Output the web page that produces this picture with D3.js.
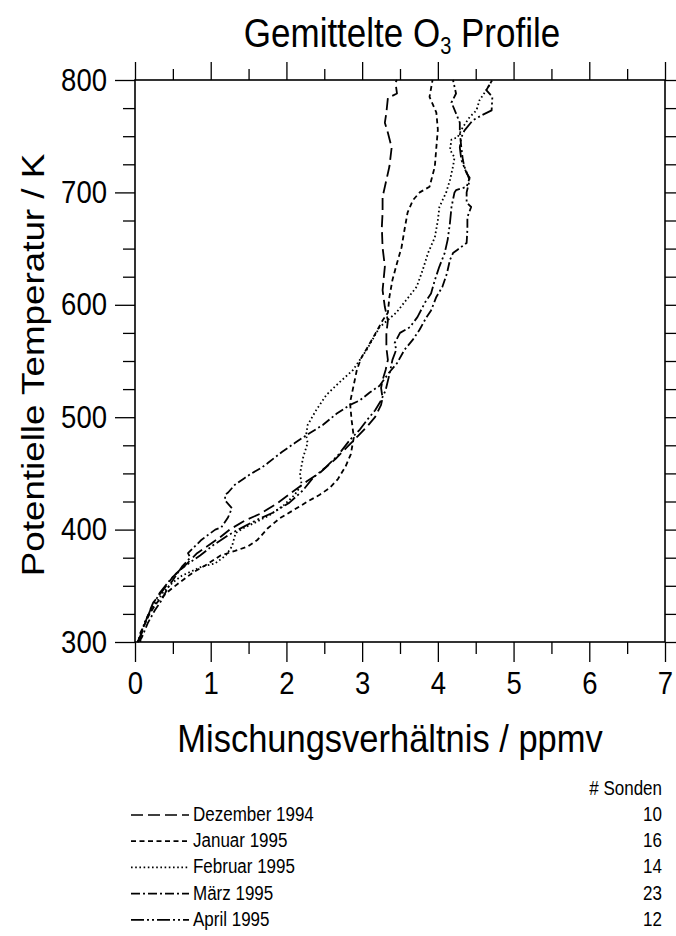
<!DOCTYPE html>
<html><head><meta charset="utf-8">
<script src="https://cdn.jsdelivr.net/npm/d3@7"></script>
<style>
html,body{margin:0;padding:0;background:#fff;}
svg{display:block;font-family:"Liberation Sans",Arial,Helvetica,sans-serif;}
</style></head>
<body>
<svg id="chart" width="676" height="936"></svg>
<script>
// ---- data (x = mixing ratio ppmv, y = potential temperature K) ----
const seriesNames = ["Dezember 1994","Januar 1995","Februar 1995","März 1995","April 1995"];
const sondenCounts = ["10","16","14","23","12"];
const xTickLabels = [0,1,2,3,4,5,6,7];
const yTickLabels = [300,400,500,600,700,800];

const dezember = [[0.07,300],[0.08,306],[0.16,322],[0.24,335],[0.37,346],[0.50,358],[0.69,370],[0.82,379],[0.95,385],[1.12,393],[1.25,400],[1.45,408],[1.65,414],[1.87,423],[2.07,433],[2.27,443],[2.45,451],[2.65,463],[2.81,474],[2.94,483],[3.07,492],[3.17,500],[3.25,511],[3.27,517],[3.25,526],[3.27,533],[3.31,542],[3.34,551],[3.32,562],[3.32,575],[3.34,586],[3.30,598],[3.27,613],[3.30,634],[3.27,651],[3.26,669],[3.27,682],[3.27,696],[3.32,711],[3.36,723],[3.39,740],[3.34,753],[3.30,762],[3.32,771],[3.34,784],[3.46,788],[3.44,798],[3.46,800]];
const januar = [[0.04,300],[0.07,308],[0.20,326],[0.29,335],[0.42,344],[0.59,353],[0.77,362],[0.95,369],[1.13,377],[1.32,381],[1.49,385],[1.62,391],[1.75,401],[1.91,410],[2.11,418],[2.28,425],[2.44,431],[2.57,437],[2.68,445],[2.78,456],[2.85,467],[2.89,482],[2.86,498],[2.84,513],[2.89,529],[2.93,542],[2.99,553],[3.07,562],[3.18,575],[3.27,586],[3.34,593],[3.36,607],[3.40,622],[3.46,637],[3.52,651],[3.56,667],[3.60,682],[3.67,693],[3.76,700],[3.89,705],[3.96,723],[3.98,740],[4.00,756],[3.98,771],[3.89,785],[3.93,800]];
const februar = [[0.04,300],[0.13,318],[0.24,331],[0.37,344],[0.50,353],[0.62,359],[0.75,363],[0.88,367],[1.06,370],[1.20,377],[1.28,385],[1.33,397],[1.45,402],[1.61,407],[1.78,413],[1.97,422],[2.11,431],[2.20,440],[2.18,450],[2.22,464],[2.28,477],[2.26,484],[2.28,493],[2.39,506],[2.53,520],[2.70,531],[2.88,542],[2.94,548],[3.06,560],[3.23,580],[3.45,593],[3.58,604],[3.72,616],[3.80,631],[3.87,646],[3.96,660],[4.00,675],[4.02,687],[4.11,700],[4.16,711],[4.20,723],[4.22,731],[4.16,738],[4.18,747],[4.26,749],[4.33,758],[4.42,767],[4.51,773],[4.55,782],[4.64,791],[4.72,800]];
const maerz = [[0.03,300],[0.09,304],[0.17,317],[0.26,328],[0.35,337],[0.44,349],[0.53,358],[0.62,367],[0.73,375],[0.70,379],[0.79,385],[0.88,391],[1.06,400],[1.14,402],[1.23,411],[1.28,419],[1.19,426],[1.19,431],[1.23,433],[1.32,440],[1.45,446],[1.54,450],[1.67,455],[1.75,459],[1.94,469],[2.11,477],[2.31,486],[2.48,493],[2.66,503],[2.84,511],[2.97,515],[3.10,522],[3.23,528],[3.36,540],[3.46,548],[3.56,560],[3.67,569],[3.76,578],[3.85,589],[3.91,595],[3.98,607],[4.06,616],[4.12,628],[4.16,640],[4.20,646],[4.26,649],[4.38,655],[4.39,667],[4.39,678],[4.44,687],[4.38,691],[4.38,700],[4.42,711],[4.35,723],[4.33,729],[4.31,740],[4.29,753],[4.29,762],[4.26,767],[4.18,780],[4.24,788],[4.20,800]];
const april = [[0.04,300],[0.11,313],[0.20,328],[0.33,344],[0.46,355],[0.59,364],[0.73,371],[0.86,377],[1.03,386],[1.23,395],[1.42,402],[1.62,409],[1.82,415],[2.04,424],[2.22,435],[2.35,446],[2.51,455],[2.68,466],[2.84,480],[2.97,489],[3.07,498],[3.17,506],[3.25,515],[3.31,524],[3.36,538],[3.40,551],[3.45,560],[3.43,566],[3.50,575],[3.63,580],[3.73,589],[3.83,602],[3.91,610],[3.96,622],[4.02,634],[4.09,646],[4.13,658],[4.16,673],[4.18,687],[4.22,700],[4.24,702],[4.38,705],[4.42,713],[4.38,717],[4.31,729],[4.29,740],[4.31,749],[4.35,755],[4.46,764],[4.59,769],[4.71,773],[4.72,785],[4.64,791],[4.71,799],[4.72,800]];

const seriesData = [dezember, januar, februar, maerz, april];
const dashes = ["12,5", "5,3.5", "1.6,2.6", "9,3,2,3", "13,3,2,3,2,3"];

// ---- layout ----
const svg = d3.select("#chart");
const L = 135, R = 665, T = 80, B = 642;
const SY = 1.15; // vertical stretch of the scanned lettering
const x = d3.scaleLinear().domain([0, 7]).range([L, R]);
const y = d3.scaleLinear().domain([300, 800]).range([B, T]);
const FONT_TICK = 27.5, FONT_AX = 34.5;

const minorX = d3.range(0.5, 7, 1);
const minorY = d3.range(325, 800, 25).filter(v => v % 100 !== 0);

svg.append("rect").attr("x", L).attr("y", T).attr("width", R - L).attr("height", B - T)
  .attr("fill", "none").attr("stroke", "#000").attr("stroke-width", 1.6);

function styleAxis(g) {
  g.select(".domain").remove();
  g.selectAll(".tick line").attr("stroke", "#000").attr("stroke-width", 1.3);
  g.selectAll("text").attr("fill", "#000").attr("font-family", '"Liberation Sans",Arial,sans-serif');
}
// bottom
svg.append("g").attr("transform", `translate(0,${B})`)
  .call(d3.axisBottom(x).tickValues(xTickLabels).tickSize(20).tickPadding(10).tickFormat(d3.format("d")))
  .call(styleAxis)
  .call(g => g.selectAll("text").attr("font-size", FONT_TICK)
    .attr("y", 30 / SY).attr("transform", `scale(1,${SY})`));
svg.append("g").attr("transform", `translate(0,${B})`)
  .call(d3.axisBottom(x).tickValues(minorX).tickSize(12).tickFormat(""))
  .call(styleAxis);
// top
svg.append("g").attr("transform", `translate(0,${T})`)
  .call(d3.axisTop(x).tickValues(xTickLabels).tickSize(18).tickFormat(""))
  .call(styleAxis);
svg.append("g").attr("transform", `translate(0,${T})`)
  .call(d3.axisTop(x).tickValues(minorX).tickSize(11).tickFormat(""))
  .call(styleAxis);
// left
svg.append("g").attr("transform", `translate(${L},0)`)
  .call(d3.axisLeft(y).tickValues(yTickLabels).tickSize(20).tickPadding(8).tickFormat(d3.format("d")))
  .call(styleAxis)
  .call(g => g.selectAll("text").attr("font-size", FONT_TICK).attr("transform", `scale(1,${SY})`));
svg.append("g").attr("transform", `translate(${L},0)`)
  .call(d3.axisLeft(y).tickValues(minorY).tickSize(12).tickFormat(""))
  .call(styleAxis);
// right
svg.append("g").attr("transform", `translate(${R},0)`)
  .call(d3.axisRight(y).tickValues(yTickLabels).tickSize(18).tickFormat(""))
  .call(styleAxis);
svg.append("g").attr("transform", `translate(${R},0)`)
  .call(d3.axisRight(y).tickValues(minorY).tickSize(11).tickFormat(""))
  .call(styleAxis);

// curves
const line = d3.line().x(d => x(d[0])).y(d => y(d[1])).curve(d3.curveLinear);
const plot = svg.append("g");
seriesData.forEach((s, i) => {
  plot.append("path").datum(s).attr("d", line)
    .attr("fill", "none").attr("stroke", "#000").attr("stroke-width", 1.8)
    .attr("stroke-dasharray", dashes[i]).attr("stroke-linejoin", "round");
});

function txt(px, py, extra) {
  return svg.append("text").attr("transform", `translate(${px},${py}) scale(1,${SY})${extra || ""}`).attr("fill", "#000");
}
// title
const title = txt(402, 47).attr("text-anchor", "middle").attr("font-size", 35);
title.append("tspan").text("Gemittelte O");
title.append("tspan").attr("font-size", 20).attr("dy", 6).text("3");
title.append("tspan").attr("dy", -6).text(" Profile");

// axis titles
txt(390, 752).attr("text-anchor", "middle").attr("font-size", FONT_AX).text("Mischungsverhältnis / ppmv");
txt(44, 365, " rotate(-90)").attr("text-anchor", "middle").attr("font-size", 32).text("Potentielle Temperatur / K");

// legend
const legFont = 17;
txt(662, 795).attr("text-anchor", "end").attr("font-size", legFont).text("# Sonden");
seriesNames.forEach((n, i) => {
  const by = 821 + i * 26.2;
  svg.append("line").attr("x1", 131).attr("x2", 189).attr("y1", by - 6).attr("y2", by - 6)
    .attr("stroke", "#000").attr("stroke-width", 1.7).attr("stroke-dasharray", dashes[i]);
  txt(193, by).attr("font-size", legFont).text(n);
  txt(662, by).attr("text-anchor", "end").attr("font-size", legFont).text(sondenCounts[i]);
});
</script>
</body></html>
